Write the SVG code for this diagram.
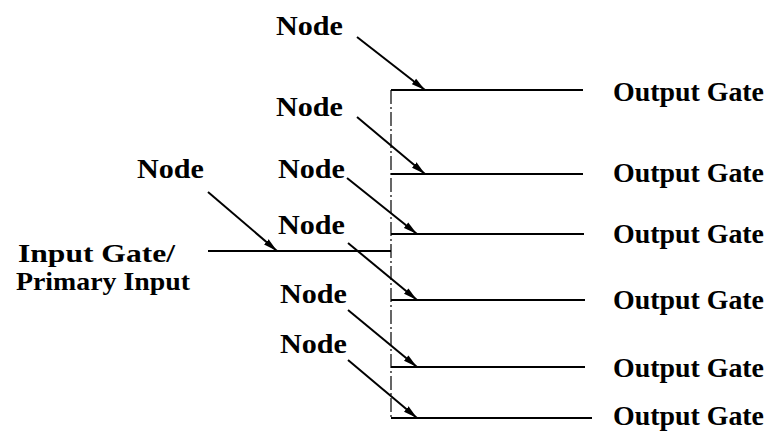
<svg xmlns="http://www.w3.org/2000/svg" width="768" height="432" viewBox="0 0 768 432">
  <defs>
    <marker id="arrow" viewBox="0 0 14 8" refX="14" refY="4" markerWidth="14" markerHeight="8" markerUnits="userSpaceOnUse" orient="auto">
      <path d="M0,0.5 L14,4 L0,7.5 Z" fill="#000"/>
    </marker>
    <style>
      .lbl { font-family: "Liberation Serif", "Times New Roman", serif; font-size: 27px; font-weight: bold; fill: #000; }
      .src { font-size: 25px; }
      .wire { stroke: #000; stroke-width: 2; fill: none; }
      .trunk { stroke: #000; stroke-width: 1.2; fill: none; stroke-dasharray: 14 3 2 3; }
      .ptr { stroke: #000; stroke-width: 2; fill: none; marker-end: url(#arrow); }
    </style>
  </defs>
  <rect width="768" height="432" fill="#fff"/>

  <!-- wiring: input wire, trunk and output wires -->
  <g id="connectors">
    <path class="wire" d="M208,251 H391"/>
    <path class="trunk" d="M391,90 V418"/>
    <path class="wire" d="M391,90 H583"/>
    <path class="wire" d="M391,174 H583"/>
    <path class="wire" d="M391,234 H584"/>
    <path class="wire" d="M391,300 H585"/>
    <path class="wire" d="M391,367 H585"/>
    <path class="wire" d="M391,418 H592"/>
    <!-- node pointers -->
    <path class="ptr" d="M357,37 L425,90"/>
    <path class="ptr" d="M357,117 L425,174"/>
    <path class="ptr" d="M208,192 L277,251"/>
    <path class="ptr" d="M347,178 L417,234"/>
    <path class="ptr" d="M348,243 L417,300"/>
    <path class="ptr" d="M348,310 L417,367"/>
    <path class="ptr" d="M348,360 L417,418"/>
  </g>

  <g id="input">
    <text class="lbl src" x="18" y="262" textLength="157" lengthAdjust="spacingAndGlyphs">Input Gate/</text>
    <text class="lbl src" x="16" y="290" textLength="174" lengthAdjust="spacingAndGlyphs">Primary Input</text>
  </g>

  <g id="node-1"><text class="lbl" x="276" y="35" textLength="67" lengthAdjust="spacingAndGlyphs">Node</text></g>
  <g id="node-2"><text class="lbl" x="276" y="116" textLength="67" lengthAdjust="spacingAndGlyphs">Node</text></g>
  <g id="node-in"><text class="lbl" x="137" y="178" textLength="67" lengthAdjust="spacingAndGlyphs">Node</text></g>
  <g id="node-3"><text class="lbl" x="278" y="178" textLength="67" lengthAdjust="spacingAndGlyphs">Node</text></g>
  <g id="node-4"><text class="lbl" x="278" y="234" textLength="67" lengthAdjust="spacingAndGlyphs">Node</text></g>
  <g id="node-5"><text class="lbl" x="280" y="303" textLength="67" lengthAdjust="spacingAndGlyphs">Node</text></g>
  <g id="node-6"><text class="lbl" x="280" y="353" textLength="67" lengthAdjust="spacingAndGlyphs">Node</text></g>

  <g id="output-1"><text class="lbl" x="613" y="101" textLength="151" lengthAdjust="spacingAndGlyphs">Output Gate</text></g>
  <g id="output-2"><text class="lbl" x="613" y="182" textLength="151" lengthAdjust="spacingAndGlyphs">Output Gate</text></g>
  <g id="output-3"><text class="lbl" x="613" y="243" textLength="151" lengthAdjust="spacingAndGlyphs">Output Gate</text></g>
  <g id="output-4"><text class="lbl" x="613" y="309" textLength="151" lengthAdjust="spacingAndGlyphs">Output Gate</text></g>
  <g id="output-5"><text class="lbl" x="613" y="377" textLength="151" lengthAdjust="spacingAndGlyphs">Output Gate</text></g>
  <g id="output-6"><text class="lbl" x="613" y="425" textLength="151" lengthAdjust="spacingAndGlyphs">Output Gate</text></g>
</svg>
